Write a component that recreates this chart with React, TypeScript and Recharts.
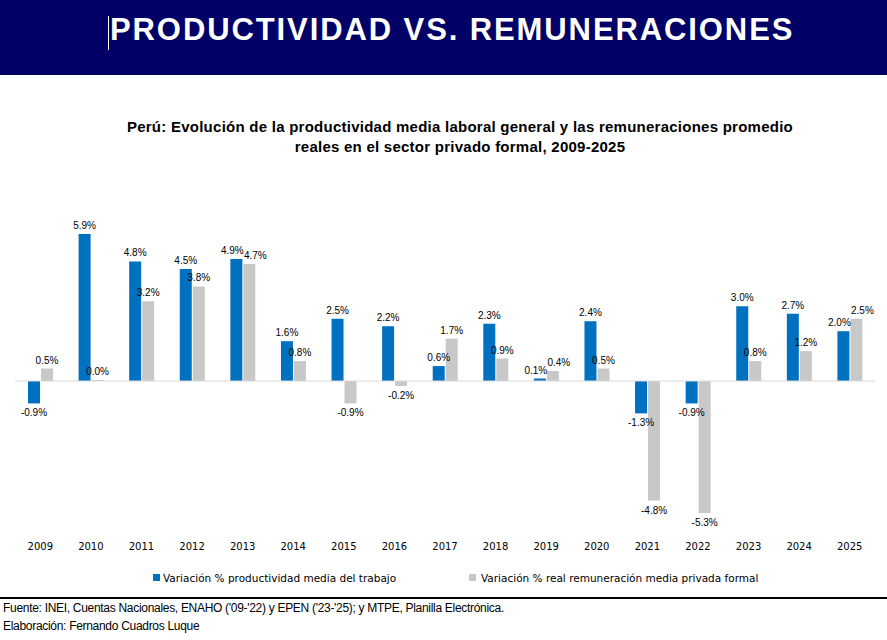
import React from "react";
import { BarChart, Bar, XAxis, YAxis, ReferenceLine, LabelList } from "recharts";

const years = ["2009","2010","2011","2012","2013","2014","2015","2016","2017","2018","2019","2020","2021","2022","2023","2024","2025"];
const productividad = [-0.9,5.9,4.8,4.5,4.9,1.6,2.5,2.2,0.6,2.3,0.1,2.4,-1.3,-0.9,3.0,2.7,2.0];
const remuneracion = [0.5,0.0,3.2,3.8,4.7,0.8,-0.9,-0.2,1.7,0.9,0.4,0.5,-4.8,-5.3,0.8,1.2,2.5];

const data = years.map((y, i) => ({ year: y, prod: productividad[i], rem: remuneracion[i] }));

const BLUE = "#0070C0";
const GREY = "#C8C8C8";

const close = (i: number) =>
  Math.sign(productividad[i]) === Math.sign(remuneracion[i]) && Math.abs(productividad[i] - remuneracion[i]) < 0.6;

const makeLabel = (shift: number) => (props: any) => {
  const { x, y, width, height, value, index } = props;
  const top = Math.min(y, y + height);
  const bot = Math.max(y, y + height);
  const cx = x + width / 2 + (close(index) ? shift : 0);
  const ty = value < 0 ? bot + 13 : top - 5;
  return (
    <text x={cx} y={ty} textAnchor="middle" fontSize={10} fontFamily="Arial, Liberation Sans" fill="#000">
      {Number(value).toFixed(1) + "%"}
    </text>
  );
};

export default function App() {
  return (
    <div style={{ position: "absolute", left: 0, top: 0, width: 887, height: 640, background: "#fff", fontFamily: "Arial, Liberation Sans" }}>
      <div style={{ position: "absolute", left: 0, top: 0, width: 887, height: 75, background: "#000066" }} />
      <div style={{ position: "absolute", left: 108, top: 16, width: 1, height: 34, background: "#fff" }} />
      <div style={{ position: "absolute", left: 110, top: 12, color: "#fff", fontWeight: "bold", fontSize: 31, letterSpacing: 1.9 }}>
        PRODUCTIVIDAD VS. REMUNERACIONES
      </div>
      <div style={{ position: "absolute", left: 0, top: 117, width: 920, textAlign: "center", fontWeight: "bold", fontSize: 15, lineHeight: "20px", color: "#000", letterSpacing: 0.25 }}>
        Perú: Evolución de la productividad media laboral general y las remuneraciones promedio<br />reales en el sector privado formal, 2009-2025
      </div>
      <div style={{ position: "absolute", left: 0, top: 200 }}>
        <BarChart width={887} height={380} data={data} margin={{ top: 31.6, right: 12, bottom: 0, left: 15 }} barSize={12} barGap={1}>
          <YAxis hide domain={[-6, 6]} />
          <XAxis dataKey="year" axisLine={false} tickLine={false} height={49.6} tickMargin={6} tick={{ fontSize: 10, fill: "#000", fontFamily: "DejaVu Sans" }} interval={0} />
          <ReferenceLine y={0} stroke="#D9D9D9" strokeWidth={1} />
          <Bar dataKey="prod" fill={BLUE} isAnimationActive={false}>
            <LabelList dataKey="prod" content={makeLabel(-4)} />
          </Bar>
          <Bar dataKey="rem" fill={GREY} minPointSize={1} isAnimationActive={false}>
            <LabelList dataKey="rem" content={makeLabel(6)} />
          </Bar>
        </BarChart>
      </div>
      <div style={{ position: "absolute", left: 153, top: 574, width: 7, height: 7, background: BLUE }} />
      <div style={{ position: "absolute", left: 163, top: 572, fontSize: 10.5, fontFamily: "DejaVu Sans" }}>Variación % productividad media del trabajo</div>
      <div style={{ position: "absolute", left: 469, top: 574, width: 7, height: 7, background: GREY }} />
      <div style={{ position: "absolute", left: 481, top: 572, fontSize: 10.5, fontFamily: "DejaVu Sans" }}>Variación % real remuneración media privada formal</div>
      <div style={{ position: "absolute", left: 0, top: 597, width: 887, height: 2, background: "#000" }} />
      <div style={{ position: "absolute", left: 3, top: 601, fontSize: 12, color: "#000", letterSpacing: -0.3 }}>Fuente: INEI, Cuentas Nacionales, ENAHO ('09-'22) y EPEN ('23-'25); y MTPE, Planilla Electrónica.</div>
      <div style={{ position: "absolute", left: 3, top: 619, fontSize: 12, color: "#000", letterSpacing: -0.3 }}>Elaboración: Fernando Cuadros Luque</div>
    </div>
  );
}
